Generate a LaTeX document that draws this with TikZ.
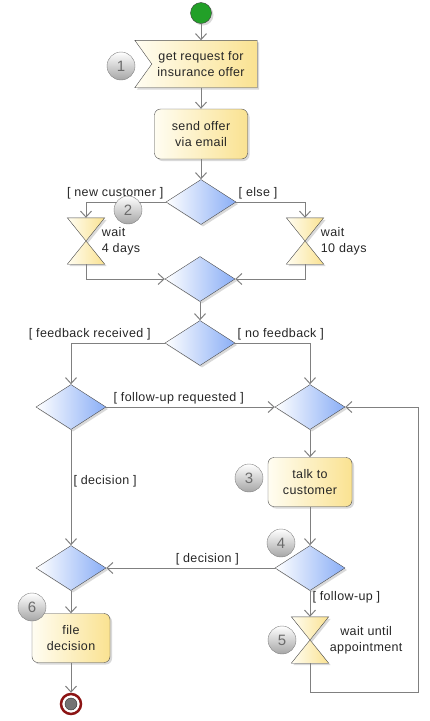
\documentclass[tikz,border=0pt]{standalone}
\usepackage{fontspec}
\setmainfont{Liberation Sans}[LetterSpace=3]
\usetikzlibrary{positioning}
\usetikzlibrary{shapes.geometric}
\usetikzlibrary{arrows.meta}
\usetikzlibrary{shadows}
\usetikzlibrary{backgrounds}

\definecolor{taskyellow}{RGB}{250,226,145}
\definecolor{tasklight}{RGB}{255,253,242}
\definecolor{decblue}{RGB}{138,174,246}
\definecolor{startgreen}{RGB}{34,160,40}
\definecolor{endred}{RGB}{140,20,20}
\definecolor{linegray}{RGB}{128,128,128}

\begin{document}
\begin{tikzpicture}[x=1pt, y=-1pt]
  \tikzstyle{every node}=[font=\fontsize{12.5}{16}\selectfont, text=black!85]
  \tikzstyle{shadowed}=[drop shadow={shadow xshift=2pt, shadow yshift=-2pt, fill=black, opacity=0.15}]
  \tikzstyle{task}=[rectangle, rounded corners=6pt, draw=black!70, left color=tasklight, right color=taskyellow, minimum height=49pt, align=center, shadowed]
  \tikzstyle{decision}=[diamond, draw=black!70, left color=white, right color=decblue, minimum width=70pt, minimum height=45pt, inner sep=0pt, shadowed]
  \tikzstyle{hourglass}=[rectangle, minimum width=37pt, minimum height=46pt, inner sep=0pt]
  \tikzstyle{glass}=[draw=black!70, left color=tasklight, right color=taskyellow, shadowed]
  \tikzstyle{waittext}=[inner sep=2pt, align=left]
  \tikzstyle{badge}=[circle, draw=black!50, top color=white, bottom color=black!35, minimum size=28pt, inner sep=0pt, text=black!58, font=\fontsize{15}{15}\selectfont]
  \tikzstyle{guard}=[inner sep=2pt]
  \tikzstyle{flow}=[draw=linegray, line width=1pt, -{Straight Barb[length=6pt, width=11pt]}]

  \useasboundingbox (0,0) rectangle (429,721);

  \node[circle, draw=black!75, fill=startgreen, minimum size=21pt, inner sep=0pt, shadowed] (start) at (201,13) {};
  \node[align=center, minimum width=112pt, minimum height=47pt, inner sep=0pt] (request) at (201,64) {get request for\\insurance offer};
  \node[task, minimum width=93pt, minimum height=50pt] (send) at (201,134) {send offer\\via email};
  \node[task, minimum width=84pt] (talk) at (310,482) {talk to\\customer};
  \node[task, minimum width=78pt] (file) at (71,638) {file\\decision};

  \foreach \name/\x/\y in {dec1/201/202, merge/200/279, fb/200/343, fbyes/71/407, fu/310/407, join/71/568, choice/310/568}
    \node[decision] (\name) at (\x,\y) {};

  \foreach \name/\x/\y in {wait4/86/241, wait10/305/241, wait5/310/640}
    \node[hourglass] (\name) at (\x,\y) {};
  \node[waittext, right=-5pt of wait4] (wait4text) {wait\\4 days};
  \node[waittext, right=-5pt of wait10] (wait10text) {wait\\10 days};
  \node[waittext, align=center, right=-1pt of wait5] (wait5text) {wait until\\appointment};

  \node[circle, draw=endred, line width=2.5pt, fill=white, minimum size=20pt, inner sep=0pt] (finish) at (71,704) {};
  \node[circle, draw=black!80, fill=black!55, minimum size=12pt, inner sep=0pt] (finishdot) at (finish) {};
  \coordinate (loop) at (418,692);

  \begin{scope}[on background layer]
    \draw[glass] ([xshift=-10pt]request.north west) -- (request.north east) -- (request.south east)
      -- ([xshift=-10pt]request.south west) -- ([xshift=7pt]request.west) -- cycle;
    \foreach \name in {wait4, wait10, wait5}
      \draw[glass] (\name.north west) -- (\name.north east) -- (\name.south west) -- (\name.south east) -- cycle;
  \end{scope}

  \draw[flow] (start) -- (request);
  \draw[flow] (request) -- (send);
  \draw[flow] (send) -- (dec1);
  \draw[flow] (dec1.west) -| node[guard, above left, pos=0] {[ new customer ]} (wait4.north);
  \draw[flow] (dec1.east) -| node[guard, above right, pos=0] {[ else ]} (wait10.north);
  \draw[flow] (wait4.south) |- (merge.west);
  \draw[flow] (wait10.south) |- (merge.east);
  \draw[flow] (merge) -- (fb);
  \draw[flow] (fb.west) -| node[guard, above, pos=0.4] {[ feedback received ]} (fbyes.north);
  \draw[flow] (fb.east) -| node[guard, above right, pos=0] {[ no feedback ]} (fu.north);
  \draw[flow] (fbyes) -- node[guard, above, pos=0.43] {[ follow-up requested ]} (fu);
  \draw[flow] (fbyes) -- node[guard, right, pos=0.45] {[ decision ]} (join);
  \draw[flow] (fu) -- (talk);
  \draw[flow] (talk) -- (choice);
  \draw[flow] (choice) -- node[guard, above, pos=0.4] {[ decision ]} (join);
  \draw[flow] (choice) -- node[guard, right, pos=0.25] {[ follow-up ]} (wait5);
  \draw[flow] (join) -- (file);
  \draw[flow] (file) -- (finish);
  \draw[flow] (wait5.south) |- (loop) |- (fu.east);

  \foreach \num/\x/\y in {1/121/66, 2/128/210, 3/249/478, 4/281/543, 5/282/640, 6/32/607}
    \node[badge] (badge\num) at (\x,\y) {\num};
\end{tikzpicture}
\end{document}
